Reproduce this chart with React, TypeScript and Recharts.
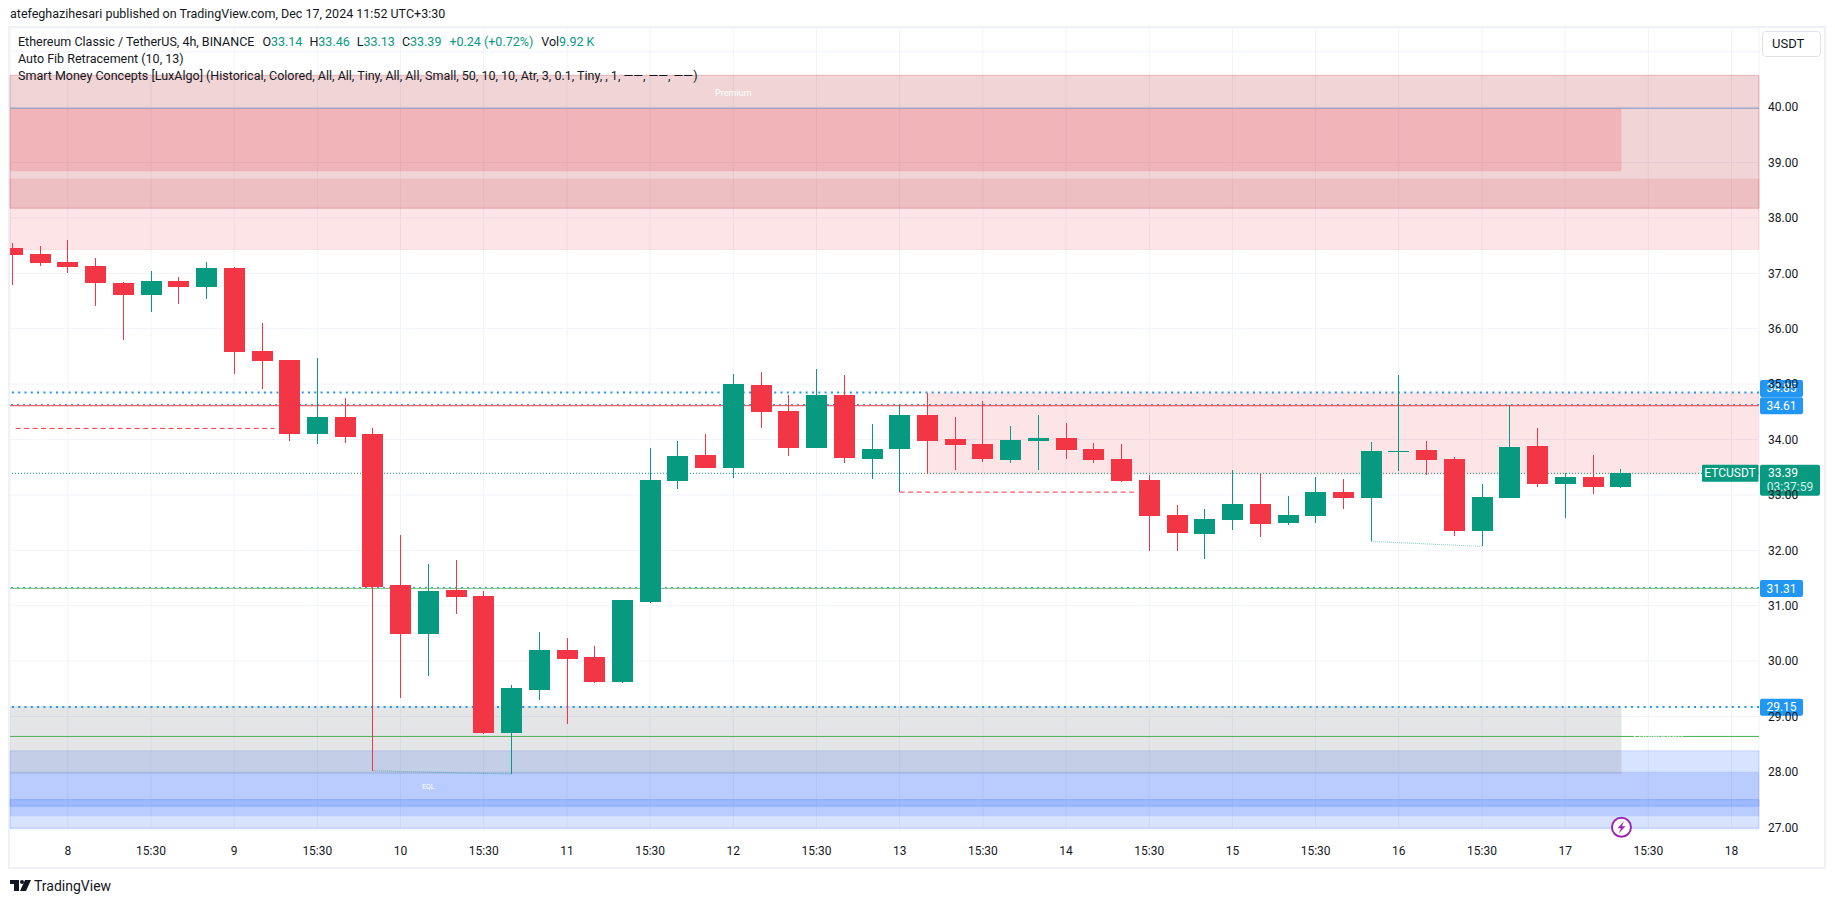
import {
  Bar,
  CartesianGrid,
  ComposedChart,
  ReferenceArea,
  ReferenceDot,
  ReferenceLine,
  XAxis,
  YAxis,
} from "recharts";

const UP = "#089981";
const DOWN = "#F23645";
const BLUE = "#2196F3";
const FONT = "Roboto, sans-serif";

const opens = [
  37.46, 37.35, 37.2, 37.13, 36.82, 36.61, 36.86, 36.75, 37.1, 35.6, 35.44, 34.1, 34.41, 34.1, 31.37,
  30.49, 31.28, 31.17, 28.7, 29.48, 30.2, 30.07, 29.62, 31.07, 33.25, 33.72, 33.49, 34.98, 34.51, 33.85,
  34.8, 33.65, 33.83, 34.44, 34.01, 33.92, 33.63, 33.97, 34.03, 33.83, 33.65, 33.27, 32.64, 32.29, 32.56,
  32.84, 32.49, 32.62, 33.05, 32.94, 33.77, 33.81, 33.65, 32.35, 32.94, 33.88, 33.2, 33.32, 33.14,
];
const highs = [
  37.54, 37.49, 37.6, 37.28, 36.84, 37.04, 36.93, 37.2, 37.11, 36.1, 35.44, 35.47, 34.75, 34.21, 32.28,
  31.75, 31.82, 31.26, 29.57, 30.52, 30.42, 30.27, 31.1, 33.85, 33.97, 34.1, 35.18, 35.22, 34.8, 35.27,
  35.16, 34.28, 34.63, 34.84, 34.41, 34.69, 34.24, 34.44, 34.3, 33.94, 33.92, 33.36, 32.82, 32.74, 33.45,
  33.38, 32.98, 33.32, 33.29, 33.95, 35.16, 33.97, 33.68, 33.2, 34.62, 34.21, 33.39, 33.72, 33.46,
];
const lows = [
  36.79, 37.13, 37.01, 36.41, 35.8, 36.3, 36.45, 36.54, 35.18, 34.91, 33.97, 33.92, 33.94, 28.02, 29.33,
  29.73, 30.85, 28.68, 27.96, 29.3, 28.86, 29.6, 29.6, 31.05, 33.11, 33.49, 33.31, 34.21, 33.7, 33.85,
  33.58, 33.29, 33.05, 33.37, 33.45, 33.59, 33.58, 33.45, 33.65, 33.58, 33.23, 31.99, 31.99, 31.84, 32.37,
  32.24, 32.46, 32.49, 32.74, 32.16, 33.43, 33.36, 32.26, 32.07, 32.94, 33.14, 32.58, 33.02, 33.13,
];
const closes = [
  37.33, 37.19, 37.11, 36.82, 36.61, 36.86, 36.75, 37.1, 35.58, 35.42, 34.1, 34.41, 34.04, 31.34, 30.49,
  31.26, 31.16, 28.7, 29.51, 30.2, 30.04, 29.62, 31.1, 33.27, 33.7, 33.49, 35.0, 34.5, 33.85, 34.8,
  33.67, 33.83, 34.44, 33.97, 33.9, 33.65, 33.99, 34.03, 33.81, 33.63, 33.25, 32.62, 32.31, 32.56, 32.84,
  32.47, 32.64, 33.05, 32.94, 33.79, 33.79, 33.63, 32.35, 32.96, 33.86, 33.2, 33.32, 33.14, 33.39,
];

const timeTicks = [2, 5, 8, 11, 14, 17, 20, 23, 26, 29, 32, 35, 38, 41, 44, 47, 50, 53, 56, 59, 62];
const timeLabels = [
  "8", "15:30", "9", "15:30", "10", "15:30", "11", "15:30", "12", "15:30", "13",
  "15:30", "14", "15:30", "15", "15:30", "16", "15:30", "17", "15:30", "18",
];
const priceTicks = [27, 28, 29, 30, 31, 32, 33, 34, 35, 36, 37, 38, 39, 40, 41];

const X_MIN = -0.083;
const X_MAX = 62.99;
const LAST_BAR = 58.03;

const candles = opens.map((open, i) => ({
  index: i,
  open,
  high: highs[i],
  low: lows[i],
  close: closes[i],
  range: [lows[i], highs[i]],
}));

const Candle = (props: any) => {
  const { x, y, width, height, payload } = props;
  const unit = height / (payload.high - payload.low);
  const top = y + (payload.high - Math.max(payload.open, payload.close)) * unit;
  const bodyHeight = Math.max(Math.abs(payload.open - payload.close) * unit, 1);
  const center = Math.round(x + width / 2);
  const fill = payload.close >= payload.open ? UP : DOWN;
  return (
    <g shapeRendering="crispEdges">
      <rect x={center} y={y} width={1} height={height} fill={fill} />
      <rect x={center - 10} y={Math.round(top)} width={21} height={Math.max(Math.round(bodyHeight), 1)} fill={fill} />
    </g>
  );
};

const PriceTag = ({ viewBox, text, shift = 0 }: any) => {
  const cy = viewBox.y + shift;
  const left = viewBox.x + viewBox.width + 1;
  return (
    <g>
      <rect x={left} y={cy - 8.5} width={43} height={17} rx={2} fill={BLUE} />
      <text x={left + 21.5} y={cy} fill="#fff" fontSize={12} fontFamily={FONT} textAnchor="middle" dominantBaseline="central">
        {text}
      </text>
    </g>
  );
};

const LastPriceTag = ({ viewBox }: any) => {
  const cy = viewBox.y;
  const left = viewBox.x + viewBox.width + 1;
  return (
    <g fontFamily={FONT} fontSize={12} textAnchor="middle">
      <rect x={left - 58} y={cy - 8.5} width={56.5} height={17} rx={1} fill={UP} />
      <text x={left - 30} y={cy} fill="#fff" dominantBaseline="central">ETCUSDT</text>
      <rect x={left} y={cy - 8.5} width={60} height={31} rx={2} fill={UP} />
      <text x={left + 23} y={cy} fill="#fff" dominantBaseline="central">33.39</text>
      <text x={left + 30} y={cy + 14} fill="#d5f0ea" dominantBaseline="central">03:37:59</text>
    </g>
  );
};

const ChartText = ({ cx, cy, text, fill, size }: any) => (
  <text x={cx} y={cy} fill={fill} fontSize={size} fontFamily={FONT} textAnchor="middle" dominantBaseline="central">
    {text}
  </text>
);

const Bolt = ({ cx, cy }: any) => (
  <g>
    <circle cx={cx} cy={cy} r={9.5} fill="#fff" stroke="#9C27B0" strokeWidth={2} />
    <path
      d={`M${cx + 2.5} ${cy - 6} L${cx - 4} ${cy + 1} L${cx - 0.5} ${cy + 1} L${cx - 2.5} ${cy + 6} L${cx + 4} ${cy - 1} L${cx + 0.5} ${cy - 1} Z`}
      fill="#9C27B0"
    />
  </g>
);

export default function App() {
  return (
    <div style={{ position: "absolute", left: 0, top: 0, width: 1835, height: 903, background: "#fff", overflow: "hidden", fontFamily: FONT, color: "#131722" }}>
      <div style={{ position: "absolute", left: 10, top: 6, fontSize: 12.5, whiteSpace: "nowrap" }}>
        atefeghazihesari published on TradingView.com, Dec 17, 2024 11:52 UTC+3:30
      </div>
      <div style={{ position: "absolute", left: 8, top: 26, width: 1818, height: 843, boxSizing: "border-box", border: "2px solid #eff1f6" }} />

      <ComposedChart
        width={1835}
        height={903}
        data={candles}
        margin={{ top: 28, left: 10, right: 11, bottom: 35 }}
        style={{ position: "absolute", left: 0, top: 0 }}
      >
        <CartesianGrid stroke="#f0f3fa" />
        <XAxis
          dataKey="index"
          type="number"
          scale="linear"
          domain={[X_MIN, X_MAX]}
          ticks={timeTicks}
          tickFormatter={(v: number) => timeLabels[timeTicks.indexOf(v)]}
          height={38}
          tickSize={0}
          tickMargin={16}
          axisLine={false}
          interval={0}
          allowDataOverflow
          tick={{ fill: "#131722", fontSize: 12, fontFamily: FONT }}
        />
        <YAxis
          orientation="right"
          type="number"
          domain={[26.951, 41.428]}
          ticks={priceTicks}
          tickFormatter={(v: number) => v.toFixed(2)}
          width={65}
          tickSize={0}
          tickMargin={9}
          axisLine={false}
          interval={0}
          allowDataOverflow
          tick={{ fill: "#131722", fontSize: 12, fontFamily: FONT, textAnchor: "start" }}
        />

        {/* premium side */}
        <ReferenceArea x1={X_MIN} x2={X_MAX} y1={37.43} y2={38.7} fill="#F23645" fillOpacity={0.13} stroke="#F23645" strokeOpacity={0.1} />
        <ReferenceArea x1={X_MIN} x2={X_MAX} y1={38.175} y2={40.574} fill="#B22833" fillOpacity={0.2} stroke="#B22833" strokeOpacity={0.25} />
        <ReferenceArea x1={X_MIN} x2={LAST_BAR} y1={38.84} y2={39.98} fill="#F23645" fillOpacity={0.2} stroke="none" />
        <ReferenceArea x1={33} x2={X_MAX} y1={33.37} y2={34.85} fill="#F23645" fillOpacity={0.13} stroke="none" />

        {/* discount side */}
        <ReferenceArea x1={X_MIN} x2={X_MAX} y1={26.98} y2={28.38} fill="#2962FF" fillOpacity={0.18} stroke="#2962FF" strokeOpacity={0.18} />
        <ReferenceArea x1={X_MIN} x2={X_MAX} y1={27.2} y2={28.0} fill="#2962FF" fillOpacity={0.18} stroke="none" />
        <ReferenceArea x1={X_MIN} x2={X_MAX} y1={27.38} y2={27.5} fill="#2962FF" fillOpacity={0.18} stroke="#2962FF" strokeOpacity={0.2} />
        <ReferenceArea x1={X_MIN} x2={LAST_BAR} y1={27.96} y2={29.19} fill="#787B86" fillOpacity={0.2} stroke="none" />

        <ReferenceLine y={39.98} stroke="#7F9BC9" strokeWidth={1} zIndex={250} />
        <ReferenceLine y={34.85} stroke={BLUE} strokeWidth={2} strokeDasharray="2 4.3" zIndex={250} />
        <ReferenceLine y={34.63} stroke={BLUE} strokeWidth={1} strokeDasharray="2 4" zIndex={250} />
        <ReferenceLine y={34.61} stroke={DOWN} strokeWidth={1} zIndex={250} />
        <ReferenceLine y={33.39} stroke={UP} strokeWidth={1} strokeDasharray="1 2" zIndex={250} />
        <ReferenceLine y={31.33} stroke={BLUE} strokeWidth={1} strokeDasharray="2 4" zIndex={250} />
        <ReferenceLine y={31.31} stroke="#81C784" strokeWidth={1} zIndex={250} />
        <ReferenceLine y={29.17} stroke={BLUE} strokeWidth={2} strokeDasharray="2 4.3" zIndex={250} />
        <ReferenceLine y={28.64} stroke="#4CAF50" strokeWidth={1} zIndex={250} />

        <ReferenceLine segment={[{ x: 0.12, y: 34.2 }, { x: 9.45, y: 34.2 }]} stroke={DOWN} strokeDasharray="5 3.5" zIndex={250} />
        <ReferenceLine segment={[{ x: 32, y: 33.05 }, { x: 40.55, y: 33.05 }]} stroke={DOWN} strokeDasharray="5 3.5" zIndex={250} />
        <ReferenceLine segment={[{ x: 49, y: 32.16 }, { x: 53, y: 32.07 }]} stroke={UP} strokeOpacity={0.5} strokeDasharray="1 1" zIndex={250} />
        <ReferenceLine segment={[{ x: 13, y: 28.02 }, { x: 18, y: 27.96 }]} stroke={UP} strokeOpacity={0.5} strokeDasharray="1 1" zIndex={250} />

        <Bar dataKey="range" barSize={21} shape={<Candle />} isAnimationActive={false} />

        <ReferenceDot x={26} y={40.26} r={0} ifOverflow="visible" shape={<ChartText text="Premium" fill={DOWN} size={9} />} />
        <ReferenceDot x={59.35} y={28.635} r={0} ifOverflow="visible" shape={<ChartText text="Equilibrium" fill="#B2B5BE" size={10} />} />
        <ReferenceDot x={0.96} y={34.0} r={0} ifOverflow="visible" shape={<ChartText text="CHoCH" fill="#F77C86" size={7} />} />
        <ReferenceDot x={36} y={32.84} r={0} ifOverflow="visible" shape={<ChartText text="BOS" fill="#F77C86" size={7} />} />
        <ReferenceDot x={51} y={31.87} r={0} ifOverflow="visible" shape={<ChartText text="EQL" fill="#089981" size={7} />} />
        <ReferenceDot x={15} y={27.73} r={0} ifOverflow="visible" shape={<ChartText text="EQL" fill="#089981" size={7} />} />
        <ReferenceDot x={58.03} y={27.0} r={0} ifOverflow="visible" shape={<Bolt />} />

        <ReferenceLine y={34.85} stroke="none" label={<PriceTag text="34.85" shift={-4} />} />
        <ReferenceLine y={34.61} stroke="none" label={<PriceTag text="34.61" />} />
        <ReferenceLine y={31.31} stroke="none" label={<PriceTag text="31.31" />} />
        <ReferenceLine y={29.15} stroke="none" label={<PriceTag text="29.15" shift={-1} />} />
        <ReferenceLine y={33.39} stroke="none" label={<LastPriceTag />} />
      </ComposedChart>

      <div style={{ position: "absolute", left: 18, top: 35, fontSize: 12.5, whiteSpace: "nowrap", lineHeight: "14px" }}>
        Ethereum Classic / TetherUS, 4h, BINANCE
        <span style={{ marginLeft: 8 }}>O</span><span style={{ color: UP }}>33.14</span>
        <span style={{ marginLeft: 7 }}>H</span><span style={{ color: UP }}>33.46</span>
        <span style={{ marginLeft: 7 }}>L</span><span style={{ color: UP }}>33.13</span>
        <span style={{ marginLeft: 7 }}>C</span><span style={{ color: UP }}>33.39</span>
        <span style={{ marginLeft: 8, color: UP }}>+0.24 (+0.72%)</span>
        <span style={{ marginLeft: 8 }}>Vol</span><span style={{ color: UP }}>9.92 K</span>
      </div>
      <div style={{ position: "absolute", left: 18, top: 52, fontSize: 12.5, whiteSpace: "nowrap", lineHeight: "14px" }}>
        Auto Fib Retracement (10, 13)
      </div>
      <div style={{ position: "absolute", left: 18, top: 69, fontSize: 12.5, whiteSpace: "nowrap", lineHeight: "14px" }}>
        Smart Money Concepts [LuxAlgo] (Historical, Colored, All, All, Tiny, All, All, Small, 50, 10, 10, Atr, 3, 0.1, Tiny, , 1, ——, ——, ——)
      </div>

      <div style={{ position: "absolute", left: 1762, top: 31, width: 59, height: 26, boxSizing: "border-box", border: "1px solid #e0e3eb", borderRadius: 4, background: "#fff", fontSize: 13, lineHeight: "24px", paddingLeft: 9 }}>
        USDT
      </div>

      <svg style={{ position: "absolute", left: 10, top: 880 }} width={21} height={11} viewBox="0 0 21 11">
        <path d="M0 0H9V11H4V4H0Z M15 0H21L16 11H10Z" fill="#131722" />
        <circle cx={12} cy={2} r={2} fill="#131722" />
      </svg>
      <div style={{ position: "absolute", left: 34, top: 877, fontSize: 14, whiteSpace: "nowrap", lineHeight: "18px" }}>TradingView</div>
    </div>
  );
}
